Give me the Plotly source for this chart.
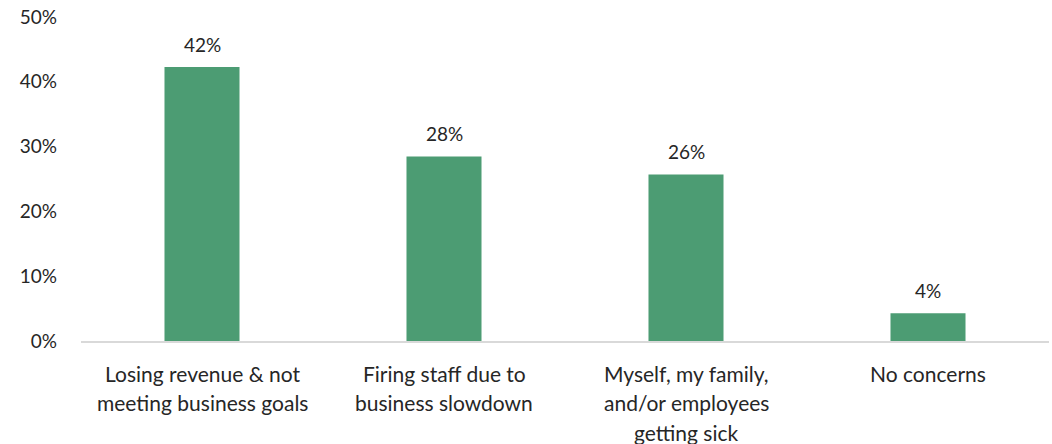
import plotly.graph_objects as go

categories = ["Losing revenue & not meeting business goals",
              "Firing staff due to business slowdown",
              "Myself, my family, and/or employees getting sick",
              "No concerns"]
label_lines = [["Losing revenue & not", "meeting business goals"],
               ["Firing staff due to", "business slowdown"],
               ["Myself, my family,", "and/or employees", "getting sick"],
               ["No concerns"]]
values = [42.3, 28.49, 25.7, 4.3]
y_ticks = [0, 10, 20, 30, 40, 50]
y_tick_text = ["0%", "10%", "20%", "30%", "40%", "50%"]

FONT = "Lato, Carlito, Calibri, sans-serif"
TXT = "#262626"

fig = go.Figure(go.Bar(
    x=categories, y=values,
    marker=dict(color="#4C9C73", line=dict(width=0)),
    width=0.31,
    cliponaxis=False,
))

annotations = []
for cat, v in zip(categories, values):
    annotations.append(dict(
        x=cat, xref="x", y=v, yref="y", text=f"{v:.0f}%", showarrow=False,
        yanchor="bottom", xanchor="center", yshift=9,
        font=dict(family=FONT, size=19, color=TXT)))
for cat, lines in zip(categories, label_lines):
    for i, ln in enumerate(lines):
        annotations.append(dict(
            x=cat, xref="x", y=0, yref="y", text=ln, showarrow=False,
            yanchor="middle", xanchor="center", yshift=-32 - 29.5 * i,
            font=dict(family=FONT, size=21, color=TXT)))

fig.update_layout(
    width=1052, height=444,
    margin=dict(l=81, r=3, t=17, b=103),
    paper_bgcolor="white", plot_bgcolor="white",
    showlegend=False,
    annotations=annotations,
    xaxis=dict(showticklabels=False, showline=True, linecolor="#D9D9D9",
               linewidth=2, ticks="", showgrid=False, zeroline=False,
               range=[-0.5, 3.5]),
    yaxis=dict(range=[0, 50], tickvals=y_ticks, ticktext=y_tick_text,
               showgrid=False, zeroline=False, showline=False, ticks="",
               tickfont=dict(family=FONT, size=19, color=TXT), ticklabelstandoff=23),
)

fig.write_html("out.html")
